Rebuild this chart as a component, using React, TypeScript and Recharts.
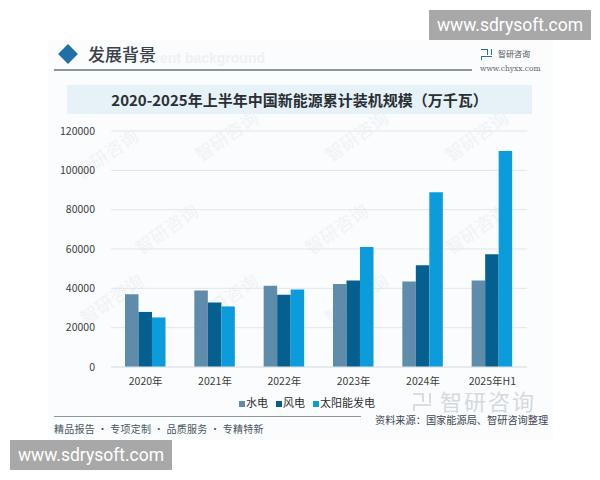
import { BarChart, Bar, XAxis, YAxis, CartesianGrid, Legend } from 'recharts';
import type { CSSProperties } from 'react';

const categories = ['2020年', '2021年', '2022年', '2023年', '2024年', '2025年H1'];
const hydro = [37000, 38900, 41300, 42200, 43500, 44000];
const wind = [28000, 32800, 36700, 44000, 51800, 57300];
const solar = [25200, 30800, 39400, 61000, 88900, 109800];
const yTicks = [0, 20000, 40000, 60000, 80000, 100000, 120000];

const data = categories.map((name, i) => ({
  name,
  hydro: hydro[i],
  wind: wind[i],
  solar: solar[i],
}));

const cjk = '"Noto Sans CJK SC", "Noto Sans", sans-serif';

// 背景の透かし
const marks: [number, number][] = [
  [70, 140], [190, 122], [320, 122], [440, 122],
  [130, 215], [300, 215], [440, 215],
  [75, 285], [190, 285], [320, 285],
];

const abs = (s: CSSProperties): CSSProperties => ({ position: 'absolute', whiteSpace: 'nowrap', ...s });

function Stamp({ x, y, text }: { x: number; y: number; text: string }) {
  return (
    <div
      style={abs({
        left: x,
        top: y,
        background: '#a8a8a8',
        color: '#fff',
        width: 162,
        height: 30,
        lineHeight: '30px',
        textAlign: 'center',
        fontFamily: 'Roboto, sans-serif',
        fontSize: 17.5,
      })}
    >
      {text}
    </div>
  );
}

// 智研のロゴ（簡略）
function Logo({ x, y, s, color }: { x: number; y: number; s: number; color: string }) {
  const t = Math.max(1.5, s * 0.16);
  return (
    <>
      <div style={abs({ left: x, top: y, width: s * 0.6, height: s * 0.5, borderTop: `${t}px solid ${color}`, borderRight: `${t}px solid ${color}`, boxSizing: 'border-box' })} />
      <div style={abs({ left: x + s * 0.72, top: y, width: s * 0.28, height: s * 0.55, borderRight: `${t}px solid ${color}`, boxSizing: 'border-box' })} />
      <div style={abs({ left: x, top: y + s * 0.62, width: s, height: s * 0.38, borderTop: `${t}px solid ${color}`, borderLeft: `${t}px solid ${color}`, boxSizing: 'border-box' })} />
    </>
  );
}

export default function App() {
  return (
    <div style={{ position: 'absolute', left: 0, top: 0, width: 600, height: 480, background: '#fff', overflow: 'hidden', fontFamily: cjk }}>
      <div style={abs({ left: 48, top: 40, width: 505, height: 400, background: '#fafcfd' })} />
      {marks.map(([x, y], i) => (
        <div key={i} style={abs({ left: x, top: y, fontSize: 18, color: '#f0f3f6', transform: 'rotate(-35deg)' })}>
          智研咨询
        </div>
      ))}

      <div style={abs({ left: 61, top: 47, width: 14, height: 14, background: '#1f6fa8', transform: 'rotate(45deg)' })} />
      <div style={abs({ left: 88, top: 41, fontSize: 17, lineHeight: '26px', color: '#3a4048', fontWeight: 500 })}>发展背景</div>
      <div style={abs({ left: 160, top: 49, fontSize: 14, lineHeight: '18px', color: '#eef1f4', fontFamily: 'Liberation Sans', fontWeight: 700 })}>
        ent background
      </div>
      <div style={abs({ left: 54, top: 69, width: 418, height: 2, background: '#8a979c' })} />
      <Logo x={481} y={49} s={11} color="#2a6f9e" />
      <div style={abs({ left: 498, top: 47, fontSize: 8, lineHeight: '14px', color: '#4a5560' })}>智研咨询</div>
      <div style={abs({ left: 480, top: 63, fontSize: 7.5, lineHeight: '12px', color: '#5a6570', fontFamily: 'DejaVu Serif' })}>www.chyxx.com</div>

      <div style={abs({ left: 67, top: 85, width: 465, height: 29, background: '#e6f1f8' })} />
      <div style={abs({ left: 67, top: 85, width: 465, height: 29, lineHeight: '29px', textAlign: 'center', fontSize: 15, fontWeight: 700, color: '#2b2f33' })}>
        2020-2025年上半年中国新能源累计装机规模（万千瓦）
      </div>

      <Logo x={413} y={393} s={18} color="#d6dde3" />
      <div style={abs({ left: 440, top: 388, fontSize: 22, lineHeight: '24px', letterSpacing: 2, color: '#d4d9dd' })}>智研咨询</div>

      <div style={abs({ left: 0, top: 0 })}>
        <BarChart
          width={600}
          height={480}
          data={data}
          barSize={13.5}
          barGap={0}
          margin={{ top: 131, right: 73, bottom: 83, left: 61 }}
        >
          <CartesianGrid vertical={false} stroke="#e3e6ea" strokeWidth={1} />
          <XAxis
            dataKey="name"
            interval={0}
            height={30}
            tickLine={false}
            axisLine={{ stroke: '#e0e4e8' }}
            tick={{ fontSize: 10.5, fill: '#3c3c3c', fontFamily: cjk }}
            tickMargin={5}
          />
          <YAxis
            width={50}
            ticks={yTicks}
            domain={[0, 120000]}
            tickLine={false}
            axisLine={false}
            tick={{ fontSize: 10.5, fill: '#3c3c3c', fontFamily: cjk }}
            tickMargin={10}
          />
          <Legend
            layout="horizontal"
            align="center"
            verticalAlign="middle"
            iconType="square"
            iconSize={6}
            itemSorter={null}
            wrapperStyle={{ left: 226, top: 393, width: 170, fontSize: 11, lineHeight: '18px', fontFamily: cjk, whiteSpace: 'nowrap', textAlign: 'left' }}
            formatter={(v) => <span style={{ color: '#2f2f2f', marginLeft: -3, marginRight: -2, whiteSpace: 'nowrap' }}>{v}</span>}
          />
          <Bar dataKey="hydro" name="水电" fill="#5f8cab" isAnimationActive={false} />
          <Bar dataKey="wind" name="风电" fill="#056090" isAnimationActive={false} />
          <Bar dataKey="solar" name="太阳能发电" fill="#0a9cdb" isAnimationActive={false} />
        </BarChart>
      </div>

      <div style={abs({ left: 54, top: 416, width: 307, height: 1, background: '#8a979c' })} />
      <div style={abs({ left: 54, top: 421, fontSize: 10, lineHeight: '16px', color: '#4a5560', letterSpacing: 0.25 })}>精品报告 · 专项定制 · 品质服务 · 专精特新</div>
      <div style={abs({ left: 375, top: 412, fontSize: 10.2, lineHeight: '15px', color: '#3c4650' })}>资料来源：国家能源局、智研咨询整理</div>

      <Stamp x={429} y={10} text="www.sdrysoft.com" />
      <Stamp x={10} y={440} text="www.sdrysoft.com" />
    </div>
  );
}
